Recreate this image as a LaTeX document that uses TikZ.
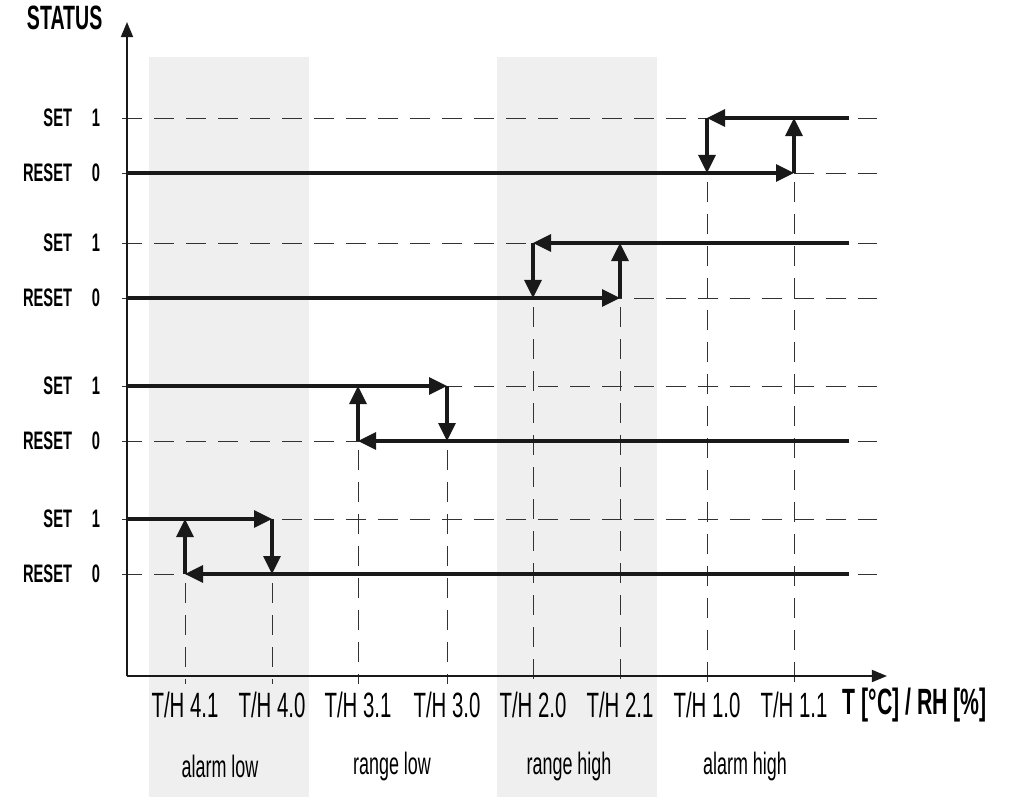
\documentclass[tikz,border=0pt]{standalone}
\usepackage{fontspec}
\setmainfont[FakeStretch=0.58]{Liberation Sans}
\usetikzlibrary{arrows.meta,positioning,calc}
\definecolor{bandcolor}{RGB}{239,239,239}
\definecolor{guidecolor}{RGB}{50,50,50}
\definecolor{linecolor}{RGB}{25,25,25}

\begin{document}
\begin{tikzpicture}[
    x=0.025cm, y=-0.025cm,
    band/.style={fill=bandcolor, draw=none},
    axis/.style={-{Triangle[length=0.38cm,width=0.3cm]}, line width=1.5pt, draw=linecolor},
    guide/.style={draw=guidecolor, line width=0.6pt, dash pattern=on 0.5cm off 0.3cm},
    level/.style={draw=linecolor, line width=2.4pt},
    switch/.style={level, -{Triangle[length=0.45cm,width=0.42cm]}},
    statelabel/.style={font=\fontsize{18}{18}\selectfont\bfseries, anchor=east},
    ticklabel/.style={font=\fontsize{25}{25}\selectfont},
    rangelabel/.style={font=\fontsize{22}{22}\selectfont}
]
\useasboundingbox (0,0) rectangle (1010,808);

% Bands
\fill[band] (149,57) rectangle (309,797);
\fill[band] (497,57) rectangle (657,797);

% Level guides and labels
\foreach \yset/\yreset [count=\i] in {118/173, 243/298, 386/441, 519/574} {
    \node[statelabel] (set\i) at (77,\yset) {SET};
    \node[statelabel] (one\i) at (105,\yset) {1};
    \node[statelabel] (reset\i) at (77,\yreset) {RESET};
    \node[statelabel] (zero\i) at (105,\yreset) {0};
    \coordinate (setL\i) at (122,\yset);
    \coordinate (setR\i) at (877,\yset);
    \coordinate (resetL\i) at (122,\yreset);
    \coordinate (resetR\i) at (877,\yreset);
    \draw[guide] (setL\i) -- (setR\i);
    \draw[guide] (resetL\i) -- (resetR\i);
}

% Thresholds on the axis
\foreach \x/\val/\ytop [count=\k] in {185/4.1/519, 272/4.0/519, 358/3.1/386, 447/3.0/386,
                                      533/2.0/243, 620/2.1/243, 707/1.0/118, 794/1.1/118} {
    \coordinate (top\k) at (\x,\ytop);
    \coordinate (foot\k) at (\x,684);
    \node[ticklabel] (th\k) at (\x,705) {T/H \val};
    \draw[guide] (top\k) -- (foot\k);
}

% Axes
\coordinate (origin) at (127,676);
\coordinate (ytip) at (127,22);
\coordinate (xtip) at (887,676);
\draw[axis] (origin) -- (ytip);
\draw[axis] (origin) -- (xtip);
\node[font=\fontsize{24}{24}\selectfont\bfseries, anchor=west] (status) at (22,18) {STATUS};
\node[font=\fontsize{26}{26}\selectfont\bfseries, anchor=west] (unit) at (838,705) {T [°C] / RH [\%]};

% Range names
\node[rangelabel] (alarmlow) at (220,766) {alarm low};
\node[rangelabel] (rangelow) at (392,766) {range low};
\node[rangelabel] (rangehigh) at (569,766) {range high};
\node[rangelabel] (alarmhigh) at (745,766) {alarm high};

% Alarm high
\coordinate (ah0L) at (127,173);
\coordinate (ah0R) at (794,173);
\coordinate (ah1R) at (794,118);
\coordinate (ah1E) at (849,118);
\coordinate (ah1L) at (707,118);
\coordinate (ah0M) at (707,173);
\draw[switch] (ah0L) -- (ah0R);
\draw[switch] (ah0R) -- (ah1R);
\draw[switch] (ah1E) -- (ah1L);
\draw[switch] (ah1L) -- (ah0M);

% Range high
\coordinate (rh0L) at (127,298);
\coordinate (rh0R) at (620,298);
\coordinate (rh1R) at (620,243);
\coordinate (rh1E) at (849,243);
\coordinate (rh1L) at (533,243);
\coordinate (rh0M) at (533,298);
\draw[switch] (rh0L) -- (rh0R);
\draw[switch] (rh0R) -- (rh1R);
\draw[switch] (rh1E) -- (rh1L);
\draw[switch] (rh1L) -- (rh0M);

% Range low
\coordinate (rl1L) at (127,386);
\coordinate (rl1R) at (447,386);
\coordinate (rl0R) at (447,441);
\coordinate (rl0E) at (849,441);
\coordinate (rl0L) at (358,441);
\coordinate (rl1M) at (358,386);
\draw[switch] (rl1L) -- (rl1R);
\draw[switch] (rl1R) -- (rl0R);
\draw[switch] (rl0E) -- (rl0L);
\draw[switch] (rl0L) -- (rl1M);

% Alarm low
\coordinate (al1L) at (127,519);
\coordinate (al1R) at (272,519);
\coordinate (al0R) at (272,574);
\coordinate (al0E) at (849,574);
\coordinate (al0L) at (185,574);
\coordinate (al1M) at (185,519);
\draw[switch] (al1L) -- (al1R);
\draw[switch] (al1R) -- (al0R);
\draw[switch] (al0E) -- (al0L);
\draw[switch] (al0L) -- (al1M);

\end{tikzpicture}
\end{document}
